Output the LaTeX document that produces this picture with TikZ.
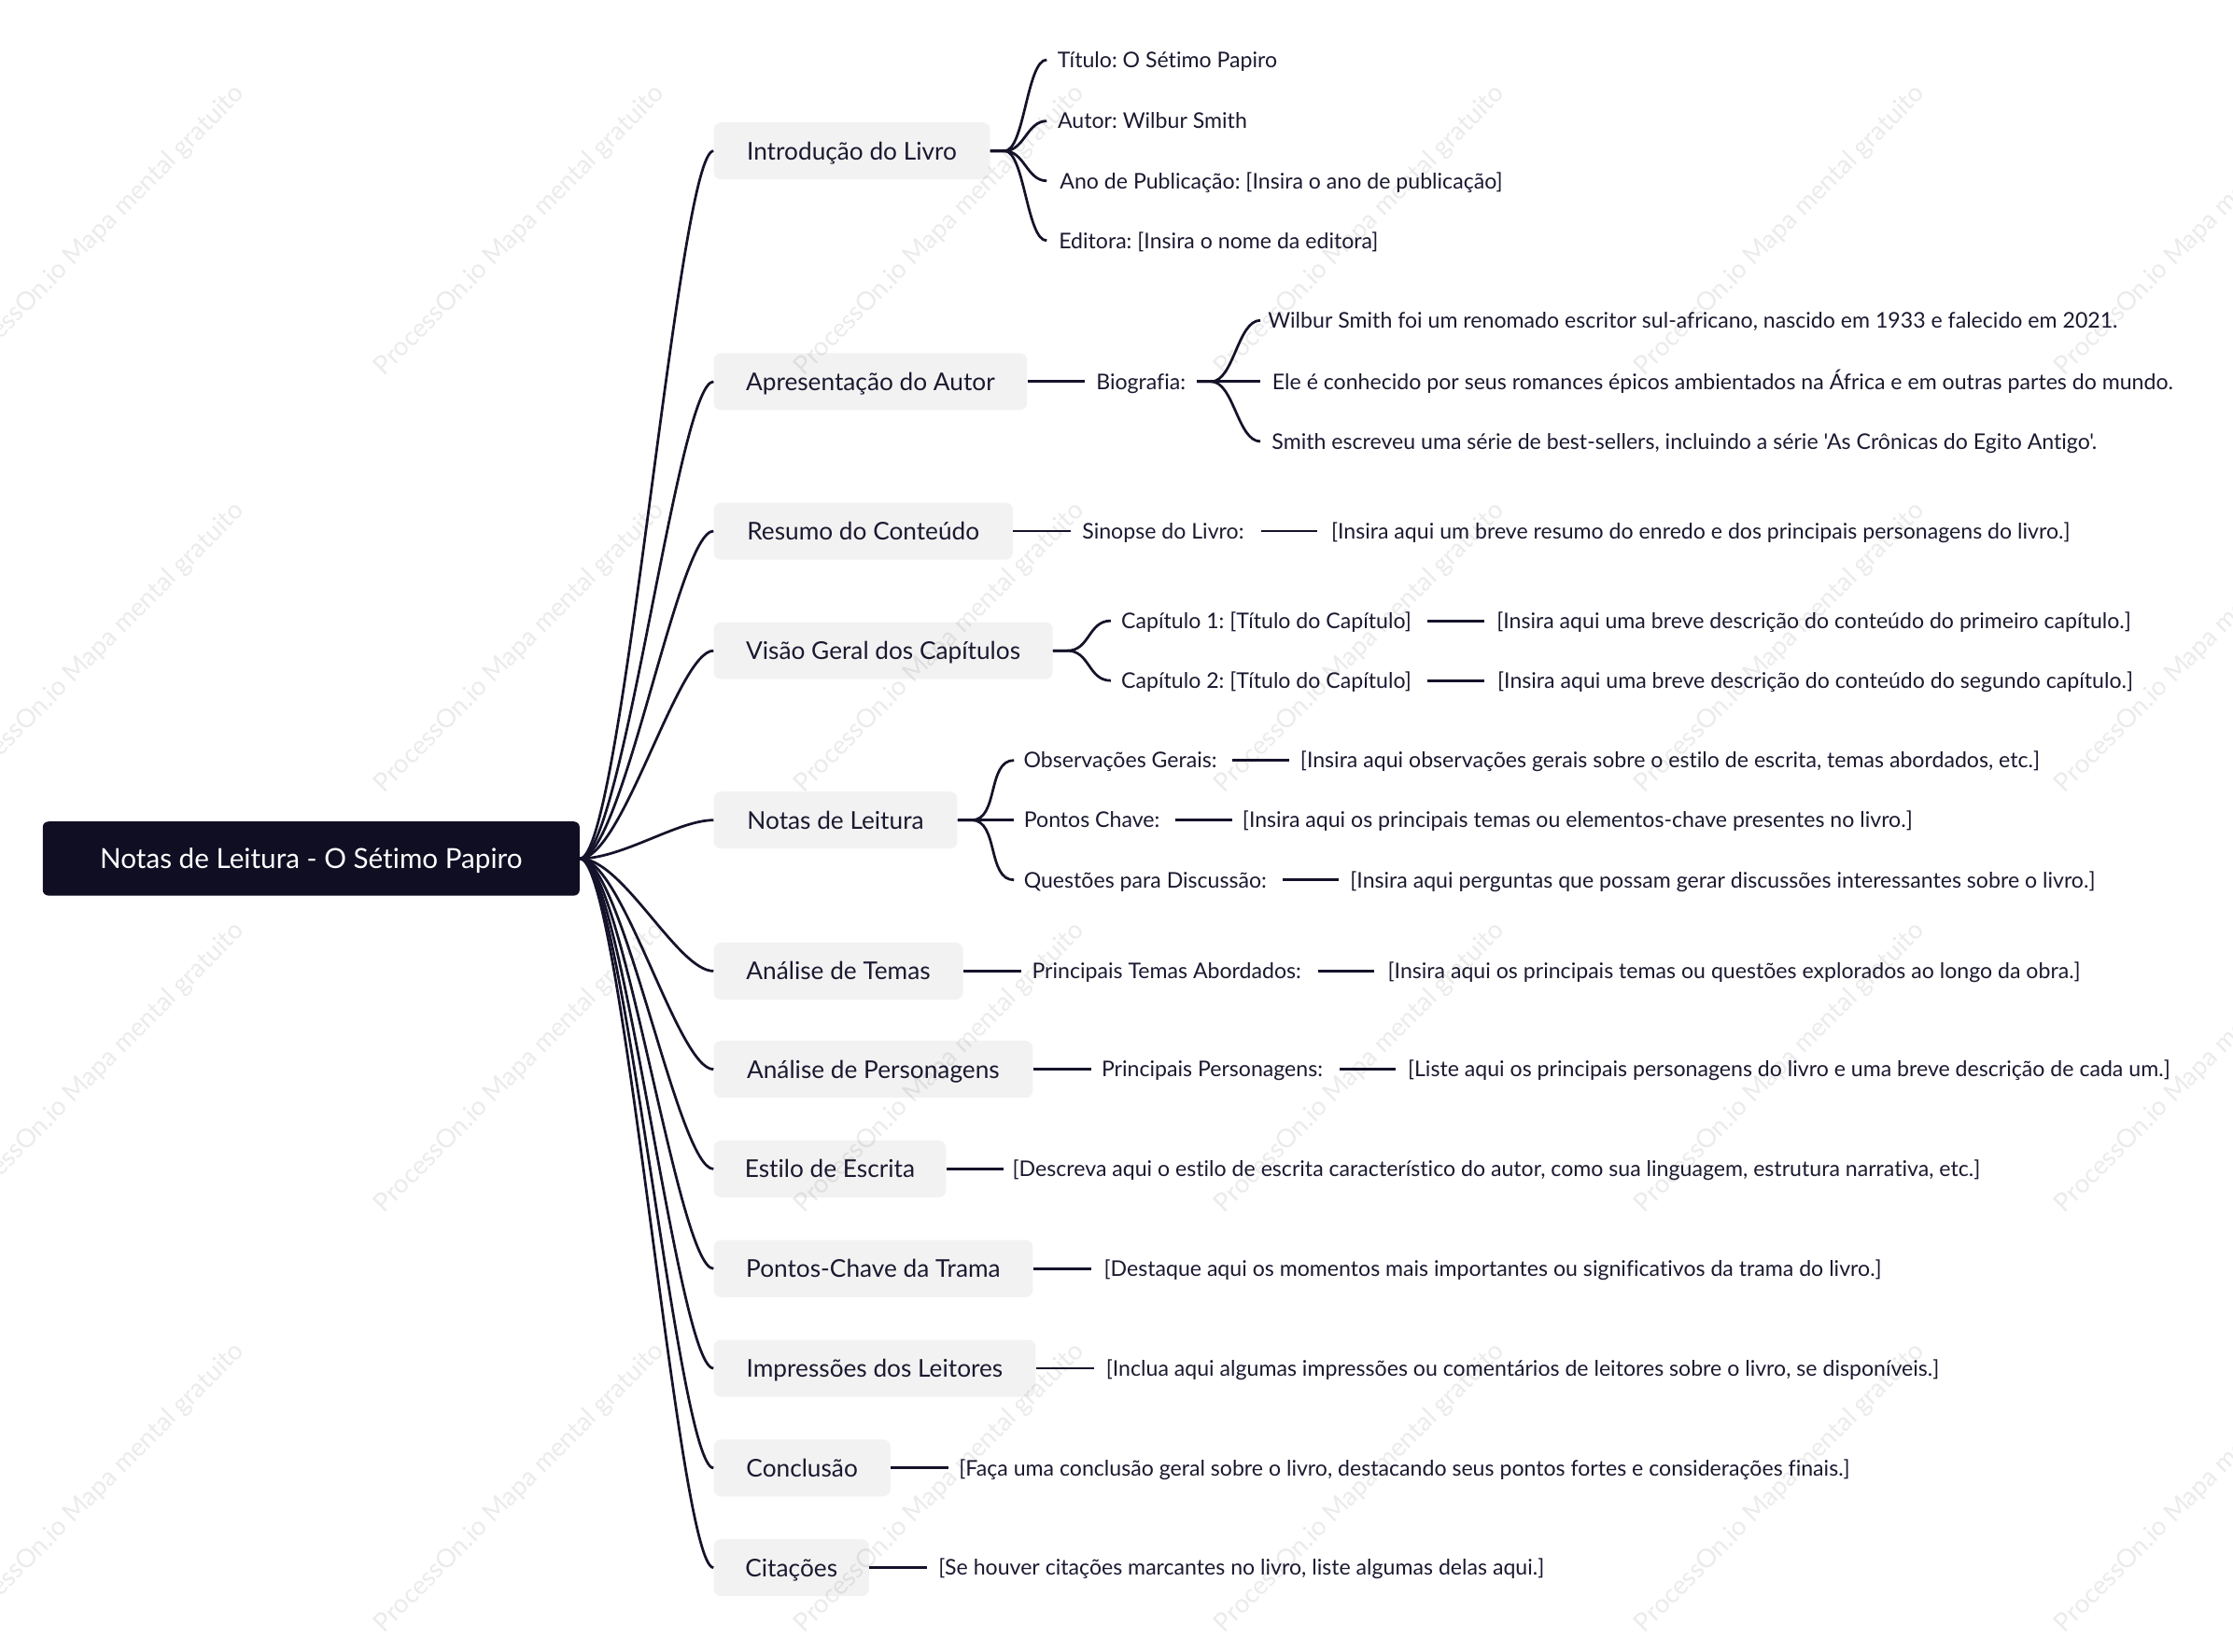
\documentclass[tikz,border=0pt]{standalone}
\usepackage{fontspec}
\setmainfont{Lato}[Ligatures=NoCommon]
\newfontfamily\plainfont{Lato}[Ligatures=NoCommon]
\frenchspacing
\definecolor{rootc}{HTML}{0F0E23}
\definecolor{boxc}{HTML}{F2F2F2}
\definecolor{linec}{HTML}{14132A}
\definecolor{txtc}{HTML}{1A1930}
\begin{document}
\begin{tikzpicture}[x=1pt,y=-1pt,
  rootnode/.style={fill=rootc, rounded corners=4pt, text=white, font=\plainfont\fontsize{19.45}{24}\selectfont, minimum width=377pt, minimum height=52pt, inner sep=0pt, text height=13.94pt, text depth=0pt},
  topic/.style={fill=boxc, rounded corners=5pt, text=txtc, font=\plainfont\fontsize{17.2}{21}\selectfont, minimum height=40pt, inner xsep=0pt, inner ysep=0pt, anchor=west, text height=12.32pt, text depth=0pt},
  leaf/.style={text=txtc, font=\plainfont\fontsize{15.15}{18}\selectfont, inner xsep=0pt, inner ysep=3pt, minimum height=20pt, anchor=west, text height=10.85pt, text depth=0pt},
  conn/.style={draw=linec, line width=1.8pt},
  wm/.style={text=black, text opacity=0.08, font=\plainfont\fontsize{18.1}{22}\selectfont, rotate=45}
]
\useasboundingbox (0,0) rectangle (1568,1160);

% root
\node[rootnode] (root) at (218.5,603) {Notas de Leitura - O Sétimo Papiro};

% level 1
\node[topic, minimum width=194pt] (intro) at (501,106) {Introdução do Livro};
\node[topic, minimum width=220pt] (apres) at (501,268) {Apresentação do Autor};
\node[topic, minimum width=210pt] (resumo) at (501,373) {Resumo do Conteúdo};
\node[topic, minimum width=238pt] (visao) at (501,457) {Visão Geral dos Capítulos};
\node[topic, minimum width=171pt] (notas) at (501,576) {Notas de Leitura};
\node[topic, minimum width=175pt] (temas) at (501,682) {Análise de Temas};
\node[topic, minimum width=224pt] (perso) at (501,751) {Análise de Personagens};
\node[topic, minimum width=163pt] (estilo) at (501,821) {Estilo de Escrita};
\node[topic, minimum width=224pt] (trama) at (501,891) {Pontos-Chave da Trama};
\node[topic, minimum width=226pt] (impr) at (501,961) {Impressões dos Leitores};
\node[topic, minimum width=124pt] (concl) at (501,1031) {Conclusão};
\node[topic, minimum width=109pt] (cit) at (501,1101) {Citações};

% Introdução children
\node[leaf, minimum width=169pt] (i1) at (735,42) {Título: O Sétimo Papiro};
\node[leaf, minimum width=148pt] (i2) at (735,85) {Autor: Wilbur Smith};
\node[leaf, minimum width=329pt] (i3) at (735,127) {Ano de Publicação: [Insira o ano de publicação]};
\node[leaf, minimum width=241pt] (i4) at (735,169) {Editora: [Insira o nome da editora]};

% Apresentação children
\node[leaf, minimum width=78pt] (bio) at (762,268) {Biografia:};
\node[leaf, minimum width=607pt] (b1) at (885,225) {Wilbur Smith foi um renomado escritor sul-africano, nascido em 1933 e falecido em 2021.};
\node[leaf, minimum width=649pt] (b2) at (885,268) {Ele é conhecido por seus romances épicos ambientados na África e em outras partes do mundo.};
\node[leaf, minimum width=595pt] (b3) at (885,310) {Smith escreveu uma série de best-sellers, incluindo a série 'As Crônicas do Egito Antigo'.};

% Resumo children
\node[leaf, minimum width=129pt] (sin) at (752,373) {Sinopse do Livro:};
\node[leaf, minimum width=538pt] (sinl) at (925,373) {[Insira aqui um breve resumo do enredo e dos principais personagens do livro.]};

% Visão children
\node[leaf, minimum width=218pt] (c1) at (780,436) {Capítulo 1: [Título do Capítulo]};
\node[leaf, minimum width=463pt] (c1l) at (1042,436) {[Insira aqui uma breve descrição do conteúdo do primeiro capítulo.]};
\node[leaf, minimum width=218pt] (c2) at (780,478) {Capítulo 2: [Título do Capítulo]};
\node[leaf, minimum width=465pt] (c2l) at (1042,478) {[Insira aqui uma breve descrição do conteúdo do segundo capítulo.]};

% Notas children
\node[leaf, minimum width=149pt] (n1) at (712,534) {Observações Gerais:};
\node[leaf, minimum width=535pt] (n1l) at (905,534) {[Insira aqui observações gerais sobre o estilo de escrita, temas abordados, etc.]};
\node[leaf, minimum width=109pt] (n2) at (712,576) {Pontos Chave:};
\node[leaf, minimum width=485pt] (n2l) at (865,576) {[Insira aqui os principais temas ou elementos-chave presentes no livro.]};
\node[leaf, minimum width=184pt] (n3) at (712,618) {Questões para Discussão:};
\node[leaf, minimum width=539pt] (n3l) at (940,618) {[Insira aqui perguntas que possam gerar discussões interessantes sobre o livro.]};

% Temas
\node[leaf, minimum width=204pt] (t1) at (717,682) {Principais Temas Abordados:};
\node[leaf, minimum width=505pt] (t1l) at (965,682) {[Insira aqui os principais temas ou questões explorados ao longo da obra.]};

% Personagens
\node[leaf, minimum width=170pt] (p1) at (766,751) {Principais Personagens:};
\node[leaf, minimum width=552pt] (p1l) at (980,751) {[Liste aqui os principais personagens do livro e uma breve descrição de cada um.]};

% others
\node[leaf, minimum width=691pt] (e1) at (705,821) {[Descreva aqui o estilo de escrita característico do autor, como sua linguagem, estrutura narrativa, etc.]};
\node[leaf, minimum width=564pt] (k1) at (766,891) {[Destaque aqui os momentos mais importantes ou significativos da trama do livro.]};
\node[leaf, minimum width=602pt] (r1) at (768,961) {[Inclua aqui algumas impressões ou comentários de leitores sobre o livro, se disponíveis.]};
\node[leaf, minimum width=640pt] (cc1) at (666,1031) {[Faça uma conclusão geral sobre o livro, destacando seus pontos fortes e considerações finais.]};
\node[leaf, minimum width=441pt] (ct1) at (651,1101) {[Se houver citações marcantes no livro, liste algumas delas aqui.]};

% root connectors
\foreach \n in {intro,apres,resumo,visao,notas,temas,perso,estilo,trama,impr,concl,cit}
  \draw[conn] (root.east) .. controls +(30,0) and +(-25,0) .. (\n.west);

% branch connectors
\foreach \c in {i1,i2,i3,i4}
  \draw[conn] (intro.east) -- ++(10,0) .. controls +(14,0) and +(-14,0) .. (\c.west);
\foreach \c in {b1,b2,b3}
  \draw[conn] (bio.east) -- ++(10,0) .. controls +(16,0) and +(-16,0) .. (\c.west);
\foreach \c in {c1,c2}
  \draw[conn] (visao.east) -- ++(10,0) .. controls +(16,0) and +(-16,0) .. (\c.west);
\foreach \c in {n1,n2,n3}
  \draw[conn] (notas.east) -- ++(10,0) .. controls +(19,0) and +(-19,0) .. (\c.west);

% straight connectors
\draw[conn] (apres.east) -- (bio.west);
\draw[conn] (resumo.east) -- (sin.west);
\draw[conn, shorten <=4pt] (sin.east) -- (sinl.west);
\draw[conn, shorten <=4pt] (c1.east) -- (c1l.west);
\draw[conn, shorten <=4pt] (c2.east) -- (c2l.west);
\draw[conn, shorten <=4pt] (n1.east) -- (n1l.west);
\draw[conn, shorten <=4pt] (n2.east) -- (n2l.west);
\draw[conn, shorten <=4pt] (n3.east) -- (n3l.west);
\draw[conn] (temas.east) -- (t1.west);
\draw[conn, shorten <=4pt] (t1.east) -- (t1l.west);
\draw[conn] (perso.east) -- (p1.west);
\draw[conn, shorten <=4pt] (p1.east) -- (p1l.west);
\draw[conn] (estilo.east) -- (e1.west);
\draw[conn] (trama.east) -- (k1.west);
\draw[conn] (impr.east) -- (r1.west);
\draw[conn] (concl.east) -- (cc1.west);
\draw[conn] (cit.east) -- (ct1.west);

% watermarks
\foreach \wx [count=\i] in {70,365,660,955,1250,1545}
  \foreach \wy [count=\j] in {162,455,750,1045}
    \node[wm] (wm\i\j) at (\wx,\wy) {ProcessOn.io Mapa mental gratuito};
\end{tikzpicture}
\end{document}
